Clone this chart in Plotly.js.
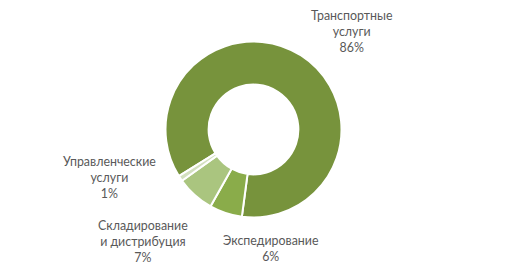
<!DOCTYPE html>
<html><head><meta charset="utf-8">
<script src="https://cdn.plot.ly/plotly-3.0.1.min.js"></script>
<style>html,body{margin:0;padding:0;background:#fff}</style>
</head><body>
<div id="chart" style="width:523px;height:270px"></div>
<script>
const categories = ["Транспортные услуги", "Экспедирование", "Складирование и дистрибуция", "Управленческие услуги"];
const shares = [86, 6, 7, 1];
const labelLines = [["Транспортные", "услуги"], ["Экспедирование"], ["Складирование", "и дистрибуция"], ["Управленческие", "услуги"]];
const colors = ["#77933c", "#8aac4a", "#aac57f", "#d3e0bf"];
const labelPos = [[0.673, 0.885], [0.518, 0.080], [0.273, 0.104], [0.210, 0.344]];

const annotations = categories.map((c, i) => ({
  xref: "paper", yref: "paper",
  x: labelPos[i][0], y: labelPos[i][1],
  xanchor: "center", yanchor: "middle",
  showarrow: false, align: "center",
  text: labelLines[i].join("<br>") + "<br>" + shares[i] + "%",
  font: {family: "Lato, 'Open Sans', sans-serif", size: 12.4, color: "#595959"}
}));

Plotly.newPlot("chart", [{
  type: "pie",
  labels: categories,
  values: shares,
  hole: 0.51,
  sort: false,
  direction: "clockwise",
  rotation: 238,
  textinfo: "none",
  hoverinfo: "label+percent",
  marker: {colors: colors, line: {color: "#ffffff", width: 2}},
  domain: {x: [165.5/523, 341.5/523], y: [52.5/270, 228.5/270]}
}], {
  width: 523, height: 270,
  margin: {l: 0, r: 0, t: 0, b: 0},
  showlegend: false,
  paper_bgcolor: "#ffffff",
  annotations: annotations
}, {staticPlot: true});
</script>
</body></html>
